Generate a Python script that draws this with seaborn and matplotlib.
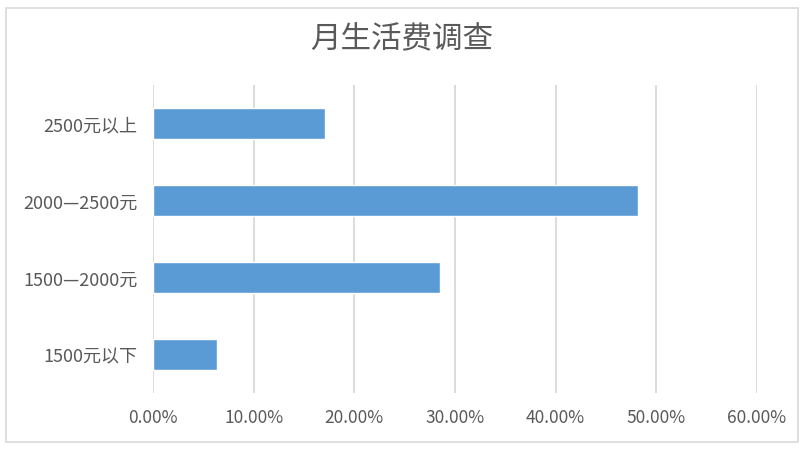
import numpy as np
import pandas as pd
import matplotlib
matplotlib.use("Agg")
import matplotlib.pyplot as plt
from matplotlib.patches import Rectangle
from matplotlib.ticker import PercentFormatter, MultipleLocator
import seaborn as sns

# data
categories = ["2500元以上", "2000—2500元", "1500—2000元", "1500元以下"]
shares = [17.05, 48.2, 28.5, 6.35]   # percent

df = pd.DataFrame({"range": categories, "share": shares})

sns.set_style("white")
plt.rcParams["font.family"] = ["Noto Sans CJK SC", "DejaVu Sans"]

fig = plt.figure(figsize=(8.08, 4.56), dpi=100)
ax = fig.add_axes([153 / 808, 1 - 394 / 456, 604 / 808, 308 / 456])

sns.barplot(data=df, x="share", y="range", order=categories, orient="h",
            color="#5B9BD5", saturation=1, width=0.4, ax=ax)

ax.set_xlim(0, 60)
ax.set_ylim(3.5, -0.5)
ax.xaxis.set_major_locator(MultipleLocator(10))
ax.xaxis.set_major_formatter(PercentFormatter(xmax=100, decimals=2))
ax.grid(axis="x", color="#D9D9D9", linewidth=1.3)
ax.set_axisbelow(True)
sns.despine(ax=ax, left=True, bottom=True)
ax.set_xlabel("")
ax.set_ylabel("")
ax.tick_params(axis="both", length=0, labelcolor="#595959")
ax.tick_params(axis="y", pad=11, labelsize=13)
ax.tick_params(axis="x", pad=11, labelsize=12.5)

fig.text(402 / 808, 1 - 40 / 456, "月生活费调查", ha="center", va="center",
         fontsize=22, color="#595959", fontweight="light")

fig.patches.append(Rectangle((5.5 / 808, 1 - 443 / 456), 792.5 / 808, 434 / 456,
                             transform=fig.transFigure, fill=False,
                             edgecolor="#D9D9D9", linewidth=1.2))

fig.savefig("out.png", dpi=100)
